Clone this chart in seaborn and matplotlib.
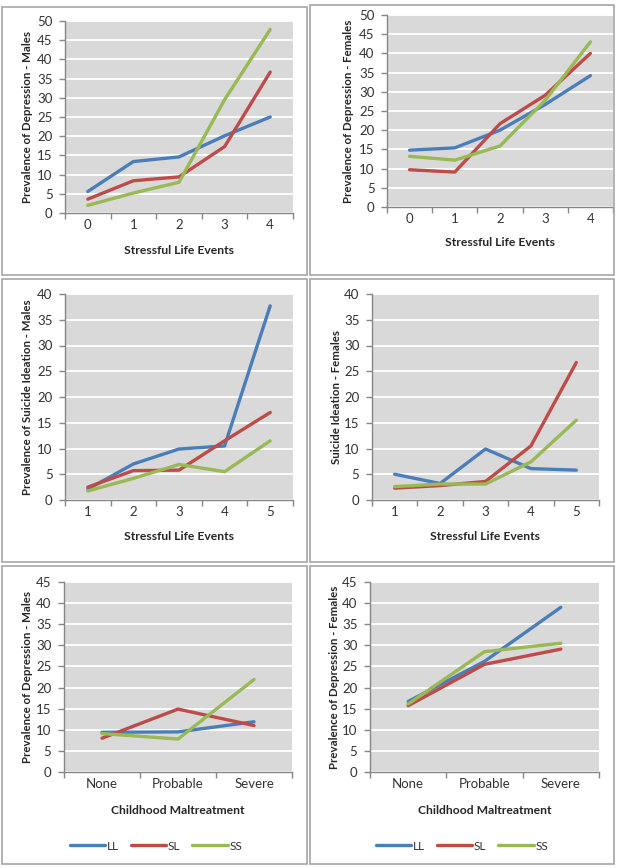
import numpy as np
import pandas as pd
import matplotlib.pyplot as plt
import seaborn as sns
from matplotlib.patches import Rectangle
from matplotlib.lines import Line2D

W, H = 627, 867

genotypes = ['LL', 'SL', 'SS']
colors = ['#4A7EBB', '#BE4B48', '#98B954']

sle_0_4 = ['0', '1', '2', '3', '4']
sle_1_5 = ['1', '2', '3', '4', '5']
maltreatment = ['None', 'Probable', 'Severe']

# depression, males, by stressful life events
dep_m_ll = [5.6, 13.4, 14.6, 20.1, 25.0]
dep_m_sl = [3.6, 8.4, 9.4, 17.3, 36.7]
dep_m_ss = [2.0, 5.2, 8.0, 29.5, 47.8]

# depression, females, by stressful life events
dep_f_ll = [14.8, 15.4, 20.0, 26.7, 34.2]
dep_f_sl = [9.7, 9.1, 21.7, 29.1, 40.0]
dep_f_ss = [13.2, 12.2, 15.9, 27.8, 43.0]

# suicide ideation, males
si_m_ll = [2.1, 7.0, 9.9, 10.5, 37.7]
si_m_sl = [2.5, 5.7, 5.8, 11.5, 17.0]
si_m_ss = [1.75, 4.2, 6.9, 5.5, 11.5]

# suicide ideation, females
si_f_ll = [5.0, 3.2, 9.9, 6.1, 5.8]
si_f_sl = [2.3, 2.8, 3.6, 10.5, 26.7]
si_f_ss = [2.6, 3.1, 3.1, 7.4, 15.5]

# depression by childhood maltreatment
mal_m_ll = [9.4, 9.5, 11.9]
mal_m_sl = [8.0, 14.9, 11.0]
mal_m_ss = [9.1, 7.8, 21.9]
mal_f_ll = [16.7, 26.2, 39.0]
mal_f_sl = [15.7, 25.5, 29.1]
mal_f_ss = [16.1, 28.5, 30.5]

sns.set_style("white")
plt.rcParams['font.family'] = ['Lato', 'DejaVu Sans']

fig = plt.figure(figsize=(W / 100, H / 100), dpi=100)


def px_axes(x0, y0, x1, y1):
    return fig.add_axes([x0 / W, 1 - y1 / H, (x1 - x0) / W, (y1 - y0) / H])


def box(x0, y0, x1, y1):
    fig.add_artist(Rectangle((x0 / W, 1 - y1 / H), (x1 - x0) / W, (y1 - y0) / H,
                             transform=fig.transFigure, fill=False,
                             edgecolor='#A6A6A6', lw=1.2))


def panel(ax_px, labels, series, ymax, xlabel, ylabel, xlab_y, ylab_x):
    x0, y0, x1, y1 = ax_px
    ax = px_axes(*ax_px)
    n = len(labels)
    df = pd.DataFrame({
        'pos': np.tile(np.arange(n), len(genotypes)),
        'value': np.concatenate(series),
        'genotype': np.repeat(genotypes, n),
    })
    sns.lineplot(data=df, x='pos', y='value', hue='genotype', hue_order=genotypes,
                 palette=colors, linewidth=2.4, legend=False, ax=ax,
                 solid_joinstyle='round')
    ax.set_facecolor('#D9D9D9')
    ax.set_xlim(-0.5, n - 0.5)
    ax.set_ylim(0, ymax)
    ax.set_yticks(np.arange(0, ymax + 1, 5))
    ax.yaxis.grid(True, color='white', lw=1.3)
    ax.set_axisbelow(True)
    ax.set_xticks(np.arange(n + 1) - 0.5)
    ax.set_xticklabels([])
    ax.set_xticks(np.arange(n), minor=True)
    ax.set_xticklabels(labels, minor=True)
    ax.tick_params(axis='x', which='minor', length=0, pad=4, labelsize=9.5, labelcolor='#333333')
    ax.tick_params(axis='x', which='major', length=4, width=1, color='#868686', direction='out', bottom=True)
    ax.tick_params(axis='y', length=4, width=1, color='#868686', direction='out', left=True,
                   pad=5, labelsize=9.5, labelcolor='#333333')
    for s in ['top', 'right']:
        ax.spines[s].set_visible(False)
    for s in ['left', 'bottom']:
        ax.spines[s].set_color('#868686')
        ax.spines[s].set_linewidth(1)
    ax.set_xlabel(xlabel, fontsize=8.7, fontweight='bold', va='center')
    ax.set_ylabel(ylabel, fontsize=8.3, fontweight='bold', va='center')
    ax.xaxis.set_label_coords(0.5, (y1 - xlab_y) / (y1 - y0))
    ax.yaxis.set_label_coords((ylab_x - x0) / (x1 - x0), 0.5)
    return ax


box(2, 7, 307, 275)
box(310, 5, 614, 275)
box(2, 279, 307, 562)
box(310, 279, 614, 562)
box(2, 566, 307, 864)
box(310, 566, 614, 864)

panel((65, 21, 293, 213), sle_0_4, [dep_m_ll, dep_m_sl, dep_m_ss], 50,
      'Stressful Life Events', 'Prevalence of Depression - Males', 250, 28)
panel((387, 15, 613, 207), sle_0_4, [dep_f_ll, dep_f_sl, dep_f_ss], 50,
      'Stressful Life Events', 'Prevalence of Depression - Females', 243, 349)
panel((65, 294, 293, 500), sle_1_5, [si_m_ll, si_m_sl, si_m_ss], 40,
      'Stressful Life Events', 'Prevalence of Suicide Ideation - Males', 537, 28)
panel((372, 294, 599, 500), sle_1_5, [si_f_ll, si_f_sl, si_f_ss], 40,
      'Stressful Life Events', 'Suicide Ideation - Females', 537, 336)
panel((64, 582, 292, 772), maltreatment, [mal_m_ll, mal_m_sl, mal_m_ss], 45,
      'Childhood Maltreatment', 'Prevalence of Depression - Males', 810, 28)
panel((370, 582, 599, 772), maltreatment, [mal_f_ll, mal_f_sl, mal_f_ss], 45,
      'Childhood Maltreatment', 'Prevalence of Depression - Females', 810, 334)

handles = [Line2D([], [], color=c, lw=2.4) for c in colors]
for cx in [156, 462]:
    fig.legend(handles, genotypes, loc='center', bbox_to_anchor=(cx / W, 1 - 846 / H),
               ncol=3, frameon=False, fontsize=8.5, handlelength=3.0,
               handletextpad=0.15, columnspacing=1.0, labelcolor='#333333')

fig.savefig('out.png', dpi=100)
